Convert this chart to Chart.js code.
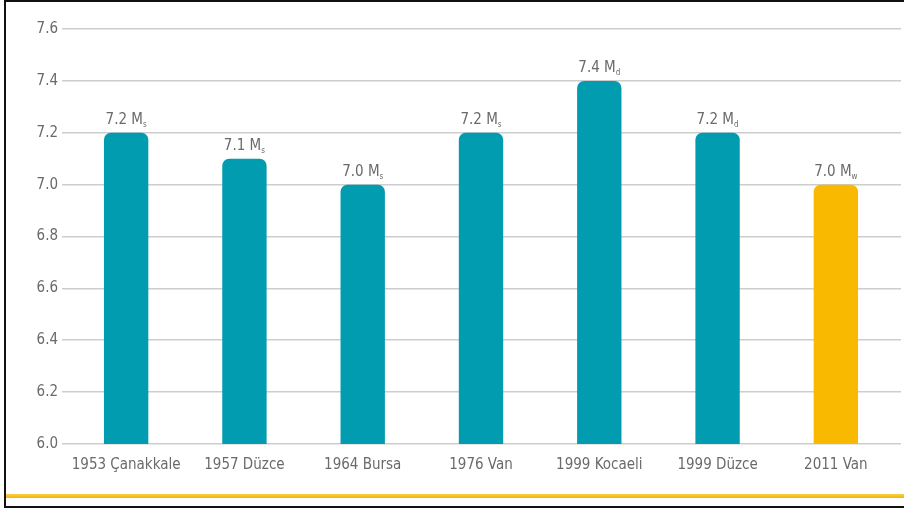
<!DOCTYPE html>
<html>
<head>
<meta charset="utf-8">
<script src="https://cdn.jsdelivr.net/npm/chart.js@4"></script>
<style>
  html, body { margin: 0; padding: 0; background: #fff; }
  #wrap { position: relative; width: 904px; height: 508px; overflow: hidden; }
  #myChart { position: absolute; left: 0; top: 0; }
  /* frame and yellow rule from the original graphic */
  #frame { position: absolute; left: 4px; top: 0; width: 900px; height: 504px;
           border-top: 2px solid #111; border-left: 2px solid #111; border-bottom: 2px solid #111; box-sizing: content-box; }
  #rule { position: absolute; left: 6px; top: 494px; width: 898px; height: 4px;
          background: linear-gradient(#fbd04a, #f5b400); }
</style>
</head>
<body>
<div id="wrap">
  <canvas id="myChart" width="904" height="508"></canvas>
  <div id="rule"></div>
  <div id="frame"></div>
</div>
<script>
const categories = ["1953 Çanakkale", "1957 Düzce", "1964 Bursa", "1976 Van", "1999 Kocaeli", "1999 Düzce", "2011 Van"];
const magnitudes = [7.2, 7.1, 7.0, 7.2, 7.4, 7.2, 7.0];
const magnitudeTypes = ["s", "s", "s", "s", "d", "d", "w"];
const yTickLabels = ["6.0", "6.2", "6.4", "6.6", "6.8", "7.0", "7.2", "7.4", "7.6"];

const FONT = "'Liberation Sans Narrow', 'DejaVu Sans Condensed', 'Roboto Condensed', sans-serif";
const teal = "#019cb0";
const yellow = "#f9b900";
const gridColor = "#cdcdcd";
const barColors = categories.map((c, i) => (i === categories.length - 1 ? yellow : teal));

//value labels like "7.2 Ms" with a small subscript
const valueLabels = {
  id: "valueLabels",
  beforeDatasetsDraw(chart) {
    //gridlines run a few px past the last category in the original
    const ctx = chart.ctx;
    const y = chart.scales.y;
    ctx.save();
    ctx.strokeStyle = gridColor;
    ctx.lineWidth = 1.5;
    y.ticks.forEach(function (t) {
      let py = y.getPixelForValue(t.value);
      py = Math.round(py - 0.75) + 0.75; // same snapping chart.js uses
      ctx.beginPath();
      ctx.moveTo(chart.chartArea.right, py);
      ctx.lineTo(chart.chartArea.right + 6, py);
      ctx.stroke();
    });
    ctx.restore();
  },
  afterDatasetsDraw(chart) {
    const ctx = chart.ctx;
    const bars = chart.getDatasetMeta(0).data;
    ctx.save();
    ctx.fillStyle = "#6a6a6a";
    ctx.textBaseline = "alphabetic";
    ctx.textAlign = "left";
    bars.forEach(function (bar, i) {
      const main = magnitudes[i].toFixed(1) + " M";
      const sub = magnitudeTypes[i];
      ctx.font = "15px " + FONT;
      const w1 = ctx.measureText(main).width;
      ctx.font = "8px " + FONT;
      const w2 = ctx.measureText(sub).width;
      const x0 = bar.x - (w1 + w2) / 2;
      const yb = bar.y - 9;
      ctx.font = "15px " + FONT;
      ctx.fillText(main, x0, yb);
      ctx.font = "8px " + FONT;
      ctx.fillText(sub, x0 + w1, yb + 3);
    });
    ctx.restore();
  },
};

const ctx = document.getElementById("myChart");
new Chart(ctx, {
  type: "bar",
  data: {
    labels: categories,
    datasets: [
      {
        data: magnitudes,
        backgroundColor: barColors,
        borderWidth: 0,
        borderRadius: { topLeft: 7, topRight: 7, bottomLeft: 0, bottomRight: 0 },
        borderSkipped: "bottom",
        barPercentage: 0.75,
        categoryPercentage: 0.5,
      },
    ],
  },
  options: {
    responsive: false,
    animation: false,
    layout: { padding: { top: 29, right: 9, left: 0, bottom: 0 } },
    plugins: { legend: { display: false }, tooltip: { enabled: false } },
    scales: {
      x: {
        grid: { display: false, drawTicks: false },
        border: { display: false },
        ticks: { color: "#6a6a6a", font: { family: FONT, size: 15 }, padding: 12, maxRotation: 0, autoSkip: false },
        afterFit(scale) { scale.height = 64; },
      },
      y: {
        min: 6.0,
        max: 7.6,
        grid: { color: gridColor, lineWidth: 1.5, tickLength: 5, drawTicks: true },
        border: { display: false },
        ticks: {
          stepSize: 0.2,
          padding: 4,
          color: "#6a6a6a",
          font: { family: FONT, size: 15 },
          callback: function (v, i) { return yTickLabels[i]; },
        },
        afterFit(scale) { scale.width = 67; },
      },
    },
  },
  plugins: [valueLabels],
});
</script>
</body>
</html>
